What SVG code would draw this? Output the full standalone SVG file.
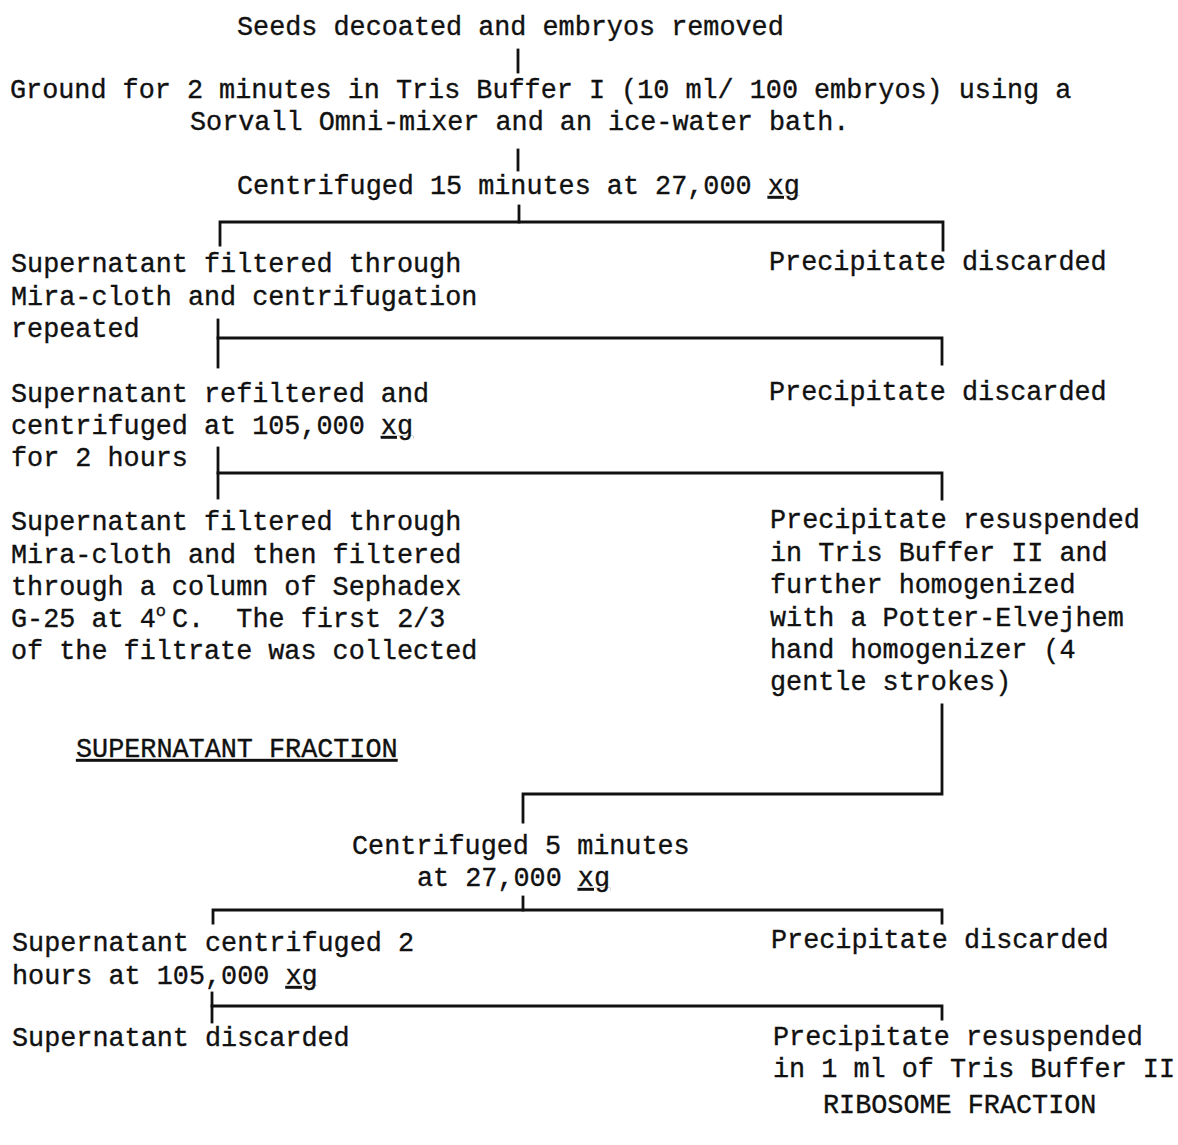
<svg xmlns="http://www.w3.org/2000/svg" width="1178" height="1145" viewBox="0 0 1178 1145">
<style>
text{font-family:"Liberation Mono","Courier New",monospace;font-size:26.8px;fill:#111;stroke:#111;stroke-width:0.35px;white-space:pre}
.u{text-decoration:underline}
.sup{font-size:17px}
#connectors path{fill:none;stroke:#111;stroke-width:2.8;stroke-linecap:square;stroke-linejoin:miter}
</style>
<rect width="1178" height="1145" fill="#fff"/>
<g id="connectors">
<path d="M518,50 V72"/>
<path d="M518,150 V170"/>
<path d="M519,206 V222"/>
<path d="M220,245 V222 H943 V250"/>
<path d="M218,320 V367"/>
<path d="M218,338 H942 V364"/>
<path d="M218,448 V498"/>
<path d="M218,473 H942 V499"/>
<path d="M942,705 V794 H523 V822"/>
<path d="M523,897 V910"/>
<path d="M213,923 V910 H942 V923"/>
<path d="M212,993 V1022"/>
<path d="M212,1006 H942 V1019"/>
</g>
<g id="n1"><text x="237" y="35">Seeds decoated and embryos removed</text></g>
<g id="n2"><text x="10" y="98">Ground for 2 minutes in Tris Buffer I (10 ml/ 100 embryos) using a</text><text x="190" y="130">Sorvall Omni-mixer and an ice-water bath.</text></g>
<g id="n3"><text x="237" y="194">Centrifuged 15 minutes at 27,000 <tspan class="u">xg</tspan></text></g>
<g id="n4"><text x="11" y="272">Supernatant filtered through</text><text x="11" y="305">Mira-cloth and centrifugation</text><text x="11" y="337">repeated</text></g>
<g id="n5"><text x="769" y="270">Precipitate discarded</text></g>
<g id="n6"><text x="11" y="402">Supernatant refiltered and</text><text x="11" y="434">centrifuged at 105,000 <tspan class="u">xg</tspan></text><text x="11" y="466">for 2 hours</text></g>
<g id="n7"><text x="769" y="400">Precipitate discarded</text></g>
<g id="n8"><text x="11" y="530">Supernatant filtered through</text><text x="11" y="563">Mira-cloth and then filtered</text><text x="11" y="595">through a column of Sephadex</text><text x="11" y="627">G-25 at 4<tspan class="sup" dy="-11">o</tspan><tspan x="172" dy="11">C.  The first 2/3</tspan></text><text x="11" y="659">of the filtrate was collected</text></g>
<g id="n9"><text x="76" y="757" class="u">SUPERNATANT FRACTION</text></g>
<g id="n10"><text x="770" y="528">Precipitate resuspended</text><text x="770" y="561">in Tris Buffer II and</text><text x="770" y="593">further homogenized</text><text x="770" y="626">with a Potter-Elvejhem</text><text x="770" y="658">hand homogenizer (4</text><text x="770" y="690">gentle strokes)</text></g>
<g id="n11"><text x="352" y="854">Centrifuged 5 minutes</text><text x="417" y="886">at 27,000 <tspan class="u">xg</tspan></text></g>
<g id="n12"><text x="12" y="951">Supernatant centrifuged 2</text><text x="12" y="984">hours at 105,000 <tspan class="u">xg</tspan></text></g>
<g id="n13"><text x="771" y="948">Precipitate discarded</text></g>
<g id="n14"><text x="12" y="1046">Supernatant discarded</text></g>
<g id="n15"><text x="773" y="1045">Precipitate resuspended</text><text x="773" y="1077">in 1 ml of Tris Buffer II</text></g>
<g id="n16"><text x="823" y="1113">RIBOSOME FRACTION</text></g>
</svg>
